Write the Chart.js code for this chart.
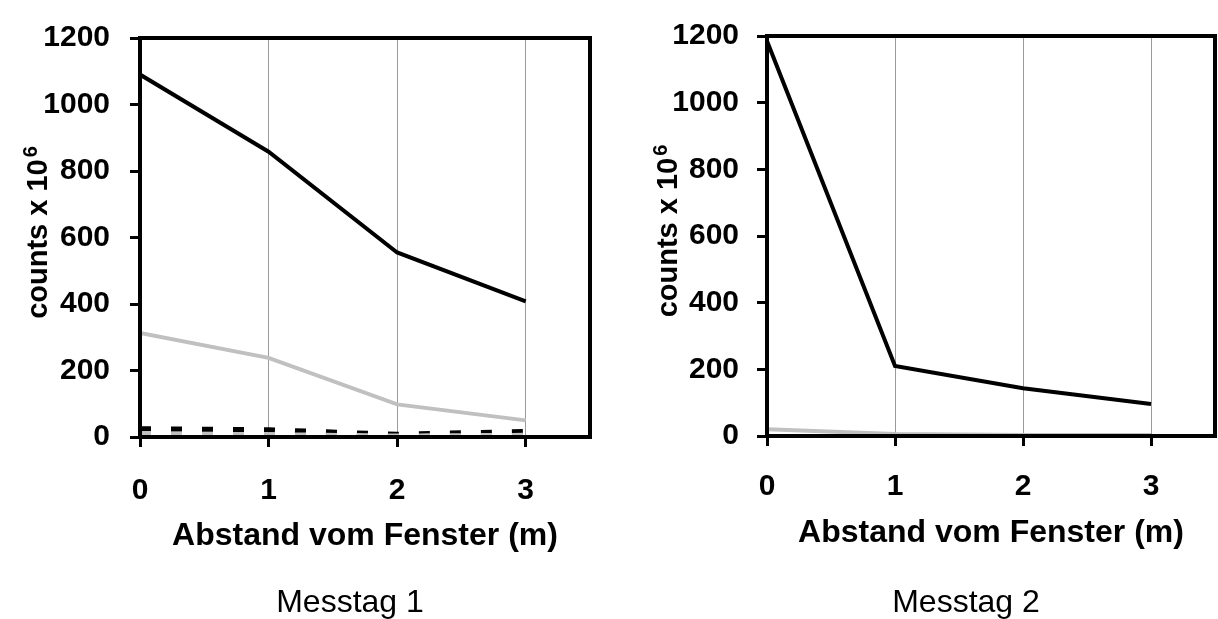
<!DOCTYPE html>
<html>
<head>
<meta charset="utf-8">
<script src="https://cdn.jsdelivr.net/npm/chart.js@4.4.0/dist/chart.umd.min.js"></script>
<style>
body { margin: 0; background: #fff; overflow: hidden; }
.box { position: absolute; top: 0; width: 609px; height: 619px; }
#left { left: 0; }
#right { left: 609px; }
.cap { position: absolute; width: 300px; text-align: center; font: 32px/32px "Liberation Sans", Arial, sans-serif; color: #000; }
</style>
</head>
<body>
<div class="box" id="left"><canvas id="chart1"></canvas></div>
<div class="box" id="right"><canvas id="chart2"></canvas></div>
<div class="cap" id="cap1" style="left:200px; top:585px;"></div>
<div class="cap" id="cap2" style="left:816px; top:585px;"></div>
<script>
var distances = [0, 1, 2, 3];

// Messtag 1
var day1_black = [1090, 858, 555, 408];
var day1_gray = [313, 238, 98, 50];
var day1_black_dash = [25, 22, 8, 17];
var day1_gray_dash = [8, 7, 3, 5];

// Messtag 2
var day2_black = [1185, 210, 143, 96];
var day2_gray = [20, 6, 3, 3];

var y_ticks = [0, 200, 400, 600, 800, 1000, 1200];
var captions = ['Messtag 1', 'Messtag 2'];

var fam = '"Liberation Sans", Arial, sans-serif';

document.getElementById('cap1').textContent = captions[0];
document.getElementById('cap2').textContent = captions[1];

function pts(vals) {
  return distances.map(function (d, i) { return { x: d, y: vals[i] }; });
}

function line(vals, color, dashed) {
  return {
    data: pts(vals),
    borderColor: color,
    borderWidth: dashed ? 5 : 4,
    borderDash: dashed ? [11, 20] : [],
    borderCapStyle: 'butt',
    pointRadius: 0,
    fill: false,
    tension: 0
  };
}

// black frame round the plot area
var frame = {
  id: 'frame',
  afterDatasetsDraw: function (chart) {
    var a = chart.chartArea;
    var ctx = chart.ctx;
    ctx.save();
    ctx.strokeStyle = '#000';
    ctx.lineWidth = 4;
    ctx.strokeRect(a.left, a.top, a.right - a.left, a.bottom - a.top);
    ctx.restore();
  }
};

// y title with a raised exponent (counts x 10^6)
var ytitle = {
  id: 'ytitle',
  afterDraw: function (chart, args, opts) {
    var a = chart.chartArea;
    var ctx = chart.ctx;
    ctx.save();
    ctx.fillStyle = '#000';
    ctx.font = 'bold 29px ' + fam;
    var w1 = ctx.measureText(opts.text).width;
    ctx.font = 'bold 20px ' + fam;
    var w2 = ctx.measureText(opts.sup).width;
    ctx.translate(a.left + opts.dx, (a.top + a.bottom) / 2 + opts.dy);
    ctx.rotate(-Math.PI / 2);
    ctx.textAlign = 'left';
    ctx.textBaseline = 'alphabetic';
    var start = -(w1 + w2 + 2) / 2;
    ctx.font = 'bold 29px ' + fam;
    ctx.fillText(opts.text, start, 0);
    ctx.font = 'bold 20px ' + fam;
    ctx.fillText(opts.sup, start + w1 + 2, -10);
    ctx.restore();
  }
};

function makeChart(id, datasets, s) {
  return new Chart(id, {
    type: 'line',
    data: { datasets: datasets },
    plugins: [frame, ytitle],
    options: {
      responsive: true,
      maintainAspectRatio: false,
      animation: false,
      layout: { padding: { top: 25, right: s.padRight, bottom: s.padBottom, left: 0 } },
      plugins: {
        legend: { display: false },
        tooltip: { enabled: false },
        title: { display: false },
        ytitle: { text: 'counts x 10', sup: '6', dx: s.titleDx, dy: -5 }
      },
      scales: {
        x: {
          type: 'linear',
          min: 0,
          max: 3.5,
          afterBuildTicks: function (sc) {
            sc.ticks = distances.map(function (v) { return { value: v }; });
          },
          afterFit: function (sc) { sc.height = 120; },
          border: { display: false },
          grid: { color: '#9a9a9a', lineWidth: 1, tickColor: '#000', tickWidth: 3, tickLength: 10 },
          ticks: {
            padding: s.xTickPad,
            color: '#000',
            maxRotation: 0,
            font: { family: fam, size: 30, weight: 'bold' }
          },
          title: {
            display: true,
            text: 'Abstand vom Fenster (m)',
            color: '#000',
            font: { family: fam, size: 32, weight: 'bold', lineHeight: 1.2 },
            padding: { top: 0, bottom: s.xTitlePad }
          }
        },
        y: {
          min: 0,
          max: 1200,
          afterBuildTicks: function (sc) {
            sc.ticks = y_ticks.map(function (v) { return { value: v }; });
          },
          afterFit: function (sc) { sc.width = s.yWidth; },
          border: { display: false },
          grid: { drawOnChartArea: false, tickColor: '#000', tickWidth: 3, tickLength: 10 },
          ticks: {
            padding: s.yTickPad,
            color: '#000',
            callback: function (v) { return String(v); },
            font: { family: fam, size: 30, weight: 'bold' }
          },
          title: { display: false }
        }
      }
    }
  });
}

makeChart('chart1', [
  line(day1_gray_dash, '#c0c0c0', true),
  line(day1_black_dash, '#000', true),
  line(day1_gray, '#c0c0c0', false),
  line(day1_black, '#000', false)
], { yWidth: 140, padRight: 19, padBottom: 62, yTickPad: 20, xTickPad: 26, xTitlePad: 2, titleDx: -93 });

makeChart('chart2', [
  line(day2_gray, '#c0c0c0', false),
  line(day2_black, '#000', false)
], { yWidth: 158, padRight: 3, padBottom: 63, yTickPad: 18, xTickPad: 23, xTitlePad: 4, titleDx: -90 });
</script>
</body>
</html>
